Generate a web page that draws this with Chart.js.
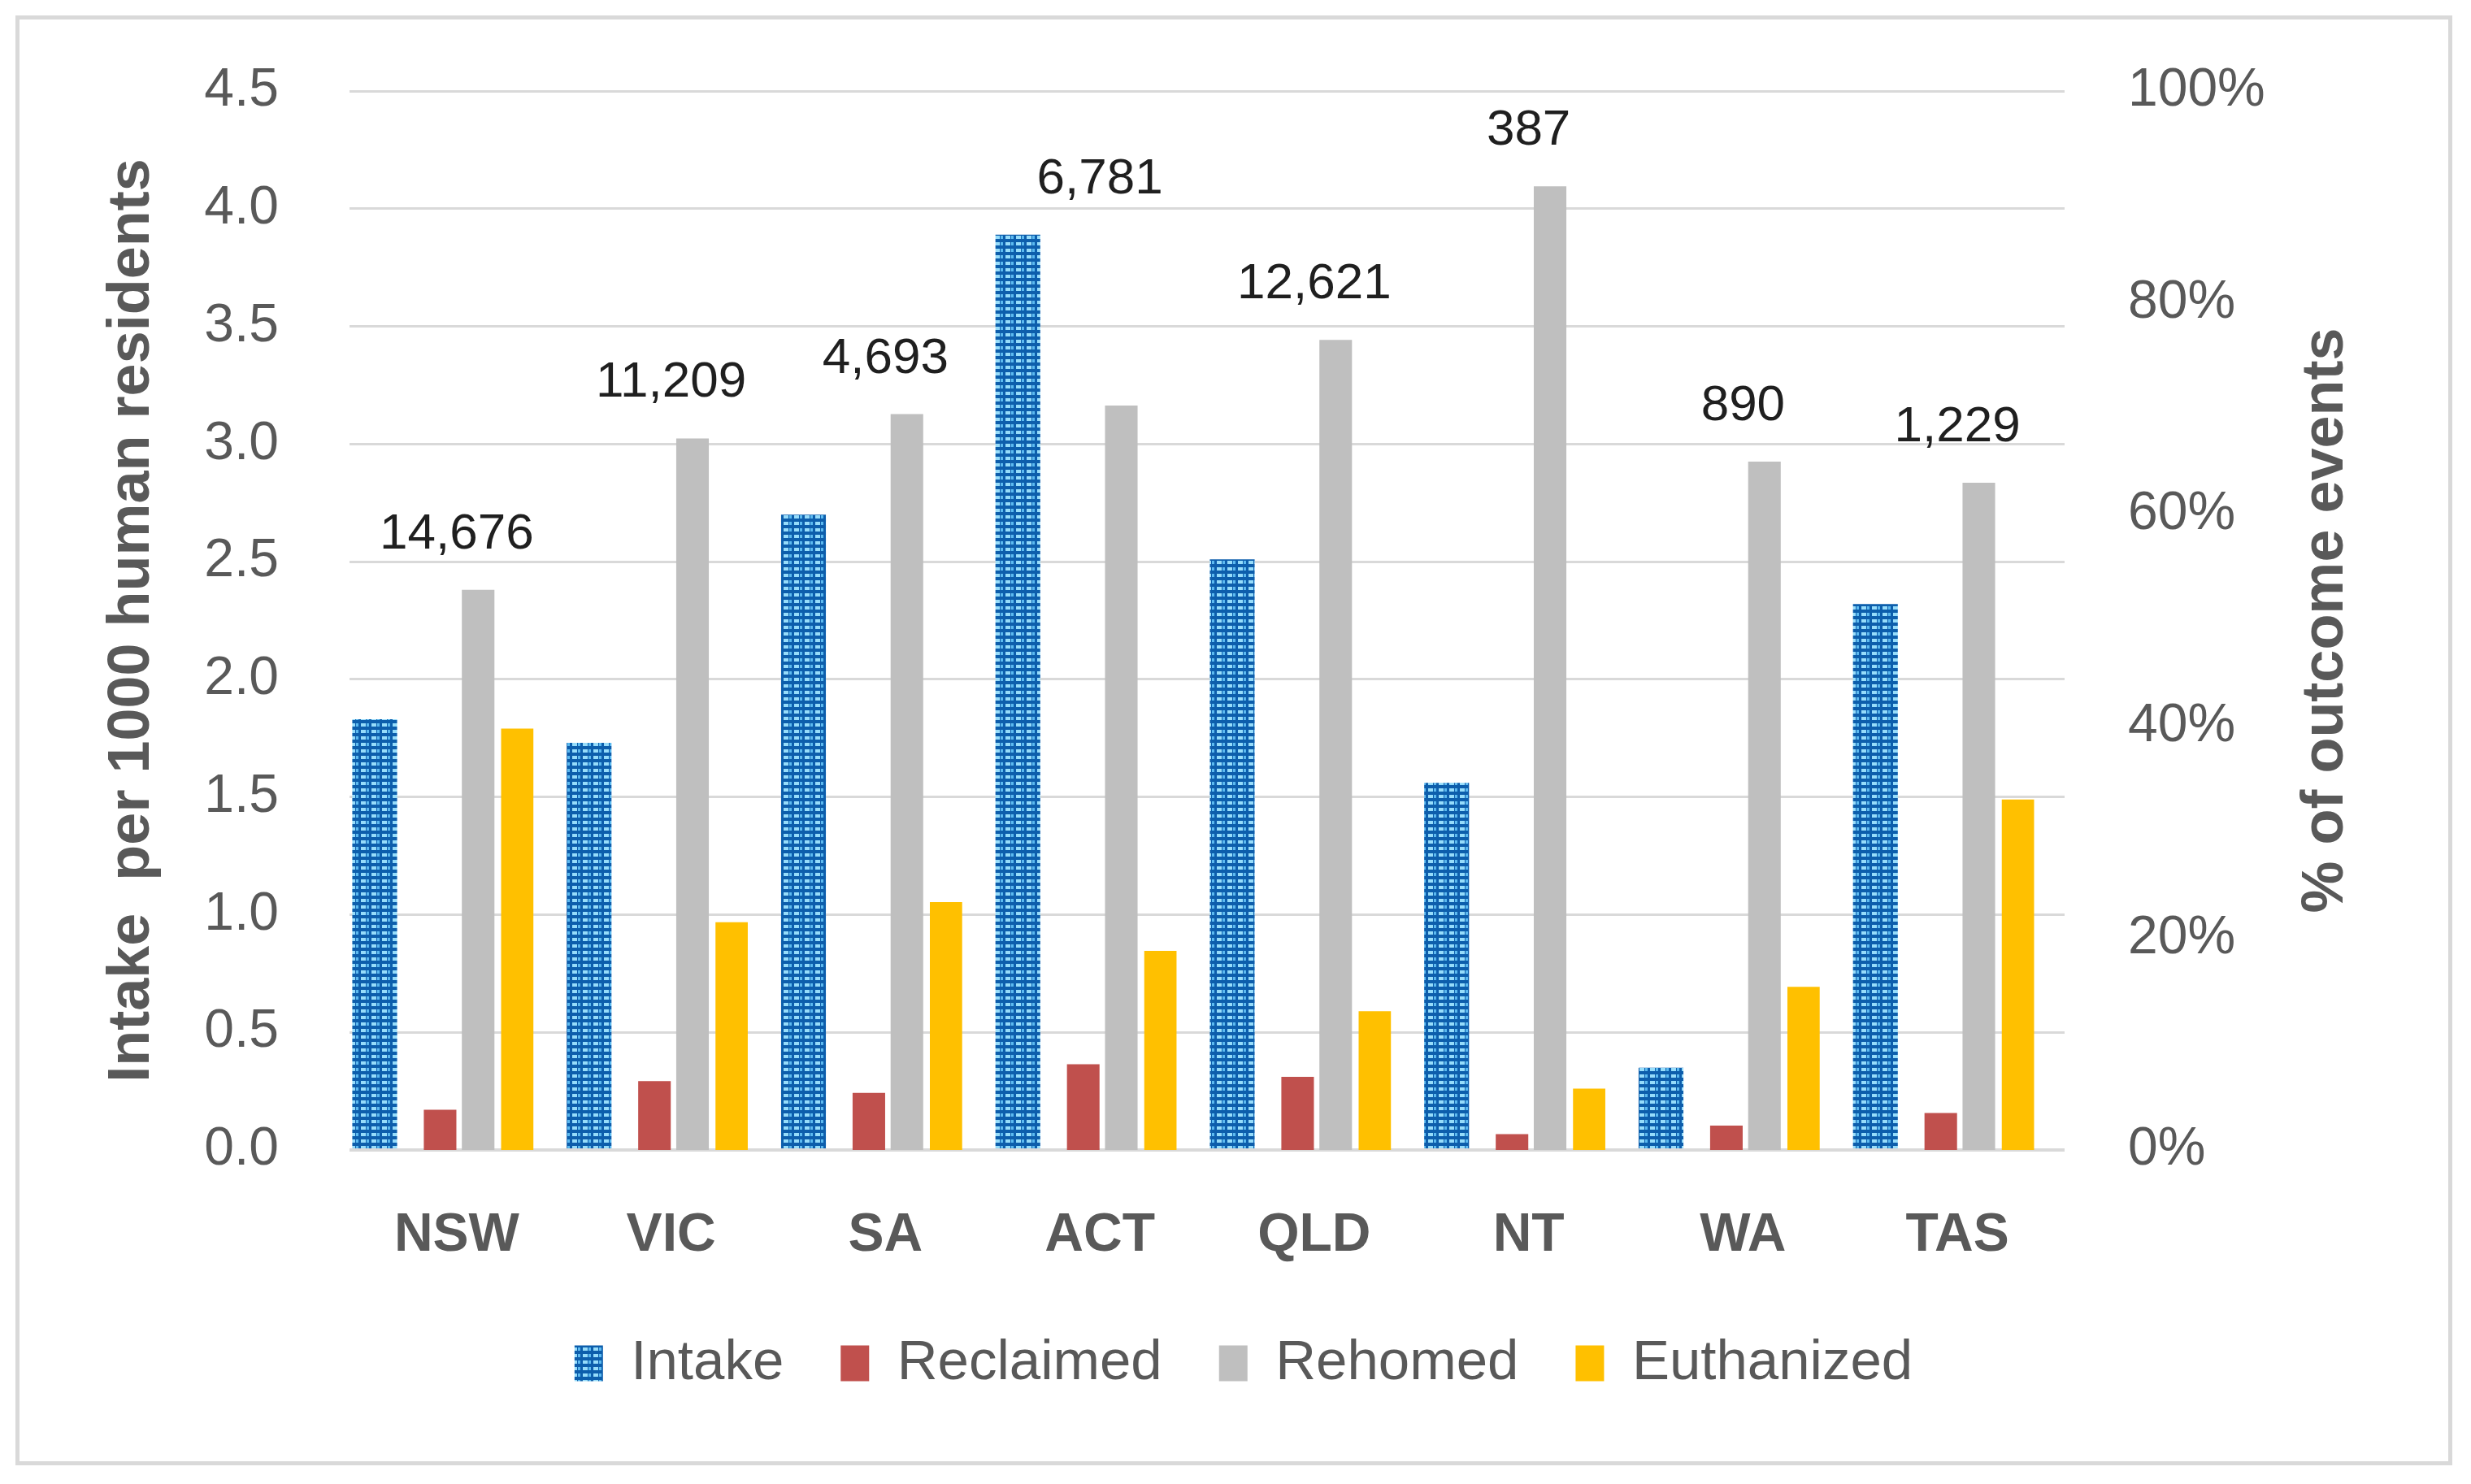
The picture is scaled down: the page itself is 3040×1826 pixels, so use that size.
<!DOCTYPE html>
<html>
<head>
<meta charset="utf-8">
<script src="https://cdn.jsdelivr.net/npm/chart.js@4.4.1/dist/chart.umd.min.js"></script>
<style>
  html, body { margin: 0; padding: 0; background: #fff; }
  #wrap { position: relative; width: 3040px; height: 1826px; }
  #frame { position: absolute; left: 19px; top: 19px; width: 2988px; height: 1774px; border: 5px solid #d9d9d9; }
  #chart { position: absolute; left: 0; top: 0; }
</style>
</head>
<body>
<div id="wrap">
  <div id="frame"></div>
  <canvas id="chart" width="3040" height="1826"></canvas>
</div>
<script>
// States
const states = ['NSW', 'VIC', 'SA', 'ACT', 'QLD', 'NT', 'WA', 'TAS'];
// Intake per 1000 human residents (left axis)
const intake = [1.83, 1.73, 2.70, 3.89, 2.51, 1.56, 0.35, 2.32];
// % of outcome events (right axis)
const reclaimed = [3.8, 6.5, 5.4, 8.1, 6.9, 1.5, 2.3, 3.5];
const rehomed = [52.9, 67.2, 69.5, 70.3, 76.5, 91.0, 65.0, 63.0];
const euthanized = [39.8, 21.5, 23.4, 18.8, 13.1, 5.8, 15.4, 33.1];
// Number of dogs shown above each group
const totals = [14676, 11209, 4693, 6781, 12621, 387, 890, 1229];
// Axis ticks
const leftTicks = { min: 0, max: 4.5, step: 0.5 };
const rightTicks = { min: 0, max: 100, step: 20 };

const grey = '#595959';
const fontFamily = "'Liberation Sans', Arial, sans-serif";
Chart.defaults.font.family = fontFamily;
Chart.defaults.color = grey;

// dotted blue fill for the intake bars
function makePattern() {
    const c = document.createElement('canvas');
    c.width = 13;
    c.height = 8;
    const p = c.getContext('2d');
    p.fillStyle = '#0d5eac';
    p.fillRect(0, 0, 13, 8);
    p.fillStyle = '#96dcfa';
    p.fillRect(2, 2, 6, 4);
    p.fillStyle = '#5cbaf0';
    p.fillRect(9, 2, 3, 4);
    return p.createPattern(c, 'repeat');
}

// right axis title reads bottom-to-top like the left one
const rightTitle = {
    id: 'rightTitle',
    afterDraw(chart) {
        const { ctx, chartArea } = chart;
        ctx.save();
        ctx.translate(2862, (chartArea.top + chartArea.bottom) / 2);
        ctx.rotate(-Math.PI / 2);
        ctx.font = 'bold 72px ' + fontFamily;
        ctx.fillStyle = grey;
        ctx.textAlign = 'center';
        ctx.textBaseline = 'middle';
        ctx.fillText('% of outcome events', 0, 0);
        ctx.restore();
    }
};

// totals above the tallest bar of each group
const totalLabels = {
    id: 'totalLabels',
    afterDatasetsDraw(chart) {
        const { ctx } = chart;
        const intakeBars = chart.getDatasetMeta(0).data;
        const rehomedBars = chart.getDatasetMeta(2).data;
        ctx.save();
        ctx.font = '62px ' + fontFamily;
        ctx.fillStyle = '#1f1f1f';
        ctx.textAlign = 'center';
        ctx.textBaseline = 'middle';
        totals.forEach((t, i) => {
            const top = Math.min(intakeBars[i].y, rehomedBars[i].y);
            const x = chart.scales.x.getPixelForValue(i);
            ctx.fillText(t.toLocaleString('en-US'), x, top - 68);
        });
        ctx.restore();
    }
};

// keep the side axes from reserving extra room above/below the plot
function fixSide(width) {
    return s => {
        s.width = width;
        s.paddingTop = 40;
        s.paddingBottom = 40;
    };
}

const ctx = document.getElementById('chart').getContext('2d');
new Chart(ctx, {
    type: 'bar',
    data: {
        labels: states,
        datasets: [
            { label: 'Intake', data: intake, yAxisID: 'y', backgroundColor: makePattern(),
              categoryPercentage: 1.02, barPercentage: 0.82 },
            { label: 'Reclaimed', data: reclaimed, yAxisID: 'y1', backgroundColor: '#c0504d',
              categoryPercentage: 0.62, barPercentage: 0.98 },
            { label: 'Rehomed', data: rehomed, yAxisID: 'y1', backgroundColor: '#bfbfbf',
              categoryPercentage: 0.80, barPercentage: 0.76 },
            { label: 'Euthanized', data: euthanized, yAxisID: 'y1', backgroundColor: '#ffc000',
              categoryPercentage: 0.753, barPercentage: 0.80 }
        ]
    },
    options: {
        responsive: false,
        animation: false,
        devicePixelRatio: 1,
        layout: {
            padding: { left: 60, right: 40, top: 112, bottom: 104 }
        },
        plugins: {
            tooltip: { enabled: false },
            legend: {
                position: 'bottom',
                labels: {
                    boxWidth: 35,
                    boxHeight: 44,
                    padding: 70,
                    color: grey,
                    font: { size: 69 }
                }
            }
        },
        scales: {
            x: {
                grid: { display: false },
                border: { display: false },
                ticks: { font: { size: 66, weight: 'bold' }, color: grey, padding: 58, maxRotation: 0, autoSkip: false },
                afterFit: s => { s.height = 158; }
            },
            y: {
                position: 'left',
                min: leftTicks.min,
                max: leftTicks.max,
                ticks: {
                    stepSize: leftTicks.step,
                    padding: 87,
                    font: { size: 66 },
                    color: grey,
                    callback: v => v.toFixed(1)
                },
                grid: {
                    color: '#d9d9d9',
                    lineWidth: c => (c.tick && c.tick.value === 0 ? 4 : 3),
                    drawTicks: false
                },
                border: { display: false },
                title: {
                    display: true,
                    text: 'Intake  per 1000 human residents',
                    color: grey,
                    font: { size: 72, weight: 'bold' },
                    padding: { top: 60, bottom: 0 }
                },
                afterFit: fixSide(370)
            },
            y1: {
                position: 'right',
                min: rightTicks.min,
                max: rightTicks.max,
                ticks: {
                    stepSize: rightTicks.step,
                    padding: 78,
                    font: { size: 66 },
                    color: grey,
                    callback: v => v + '%'
                },
                grid: { display: false, drawTicks: false },
                border: { display: false },
                afterFit: fixSide(460)
            }
        }
    },
    plugins: [rightTitle, totalLabels]
});
</script>
</body>
</html>
